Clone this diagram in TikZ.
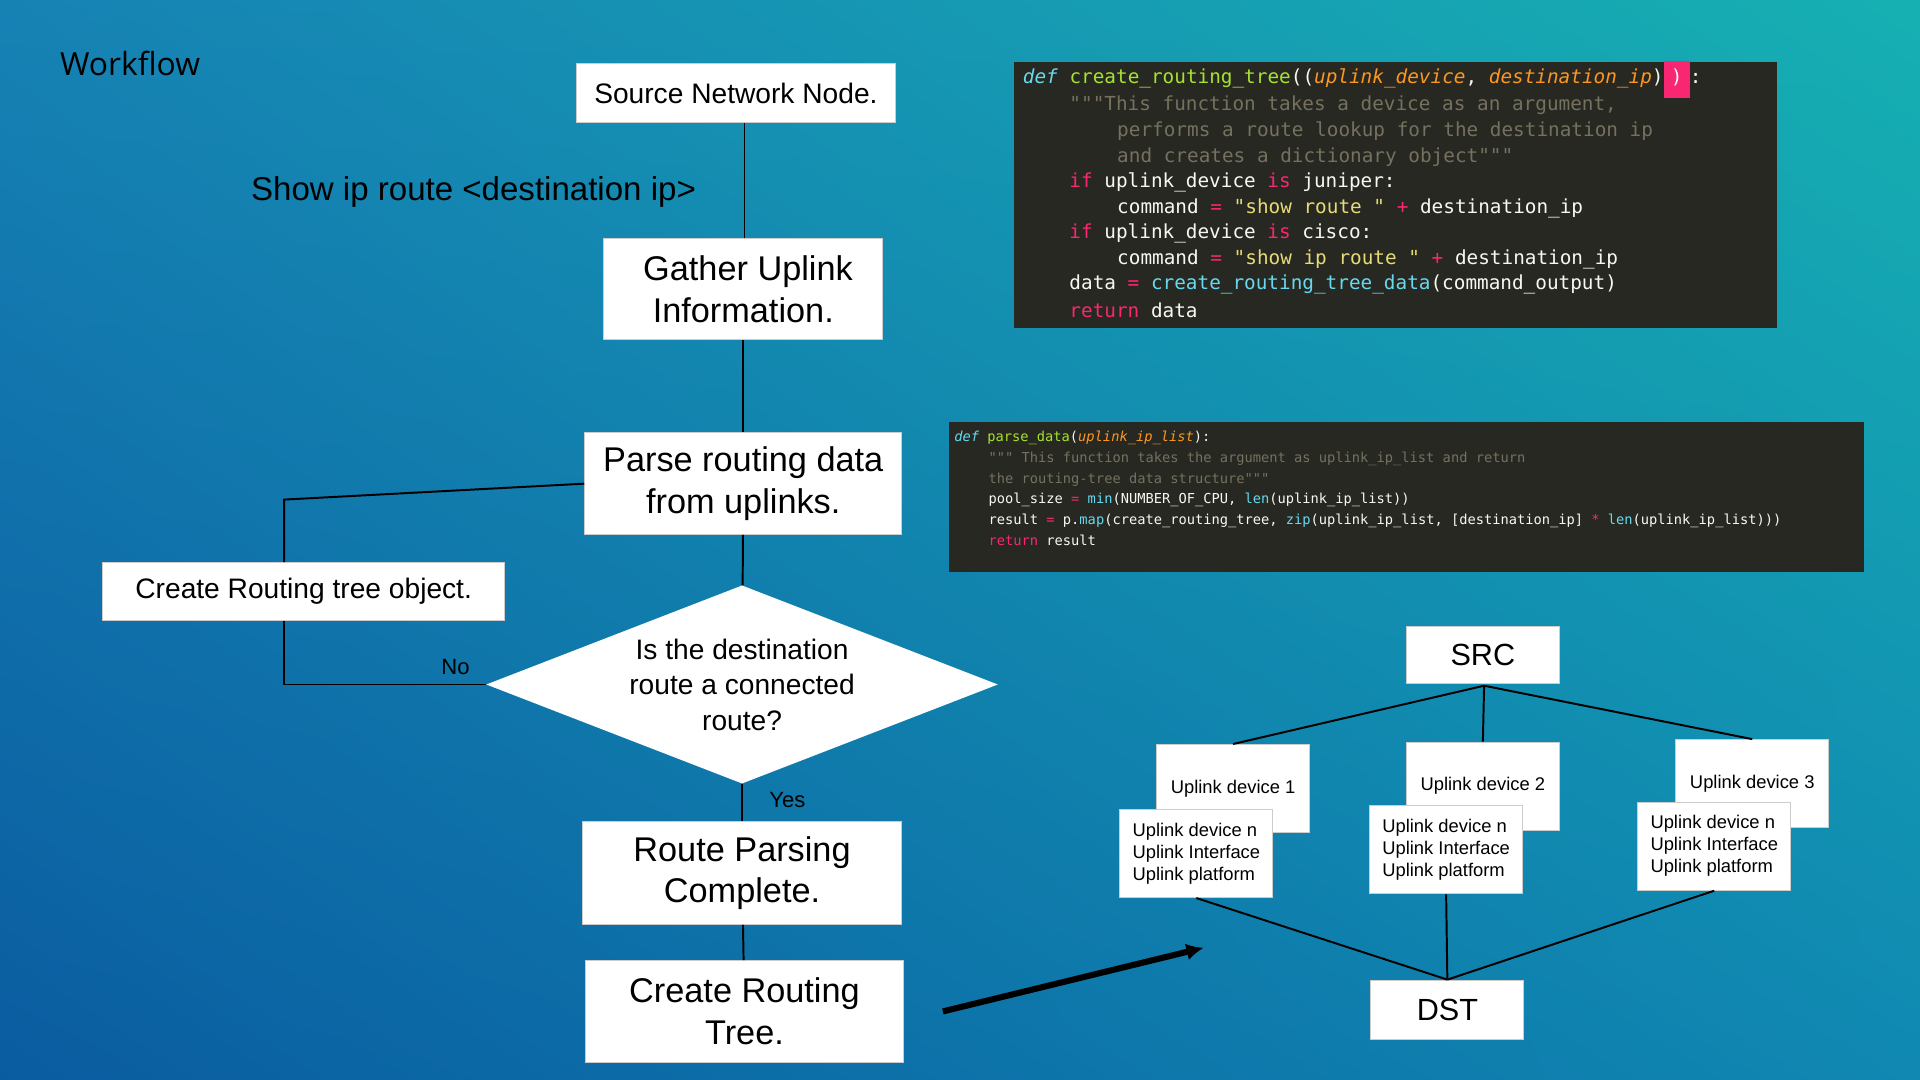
\documentclass[tikz,border=0pt]{standalone}
\usepackage{fontspec}
\setmainfont{Liberation Sans}
\newfontfamily\codefont{DejaVu Sans Mono}
\newfontfamily\titlefont{Open Sans}
\usepackage{xcolor}
\usetikzlibrary{arrows.meta, shapes.geometric, shadings}

\definecolor{codebg}{HTML}{272822}
\definecolor{cblue}{HTML}{66D9EF}
\definecolor{cgreen}{HTML}{A6E22E}
\definecolor{corange}{HTML}{FD971F}
\definecolor{cgray}{HTML}{75715E}
\definecolor{cpink}{HTML}{F92672}
\definecolor{cyellow}{HTML}{E6DB74}
\definecolor{cwhite}{HTML}{F8F8F2}
\definecolor{bgll}{RGB}{10,92,160}
\definecolor{bgul}{RGB}{22,130,180}
\definecolor{bgur}{RGB}{22,176,178}
\definecolor{bglr}{RGB}{16,136,178}

\newcommand{\kwd}[1]{\textcolor{cblue}{\itshape #1}}
\newcommand{\fnm}[1]{\textcolor{cgreen}{#1}}
\newcommand{\prm}[1]{\textcolor{corange}{\itshape #1}}
\newcommand{\cmt}[1]{\textcolor{cgray}{#1}}
\newcommand{\kwp}[1]{\textcolor{cpink}{#1}}
\newcommand{\cstr}[1]{\textcolor{cyellow}{#1}}
\newcommand{\bfn}[1]{\textcolor{cblue}{#1}}

\begin{document}
\begin{tikzpicture}[x=0.5pt, y=-0.5pt,
    box/.style={fill=white, draw=black!20, inner sep=0pt, align=center},
    uplink/.style={box, font=\fontsize{7.5}{9}\selectfont, minimum width=62.5pt, minimum height=36pt},
    codeA/.style={anchor=west, inner sep=0pt, text=cwhite, font=\codefont\fontsize{7.9}{9}\selectfont},
    codeB/.style={anchor=west, inner sep=0pt, text=cwhite, font=\codefont\fontsize{5.6}{7}\selectfont},
    flow/.style={black, line width=0.8pt}]

    % background
    \shade[lower left=bgll, upper left=bgul, upper right=bgur, lower right=bglr]
        (0,0) rectangle (1568,882);
    \useasboundingbox (0,0) rectangle (1568,882);

    \node[anchor=west, font=\titlefont\fontsize{13}{15}\selectfont] (title) at (42,52) {Workflow};

    % flow chart
    \node[box, minimum width=130pt, minimum height=24pt, font=\fontsize{11.5}{13}\selectfont] (src) at (601,76) {Source Network Node.};
    \node[box, minimum width=114pt, minimum height=41.5pt, font=\fontsize{14}{17}\selectfont] (gather) at (607,236) {\ Gather Uplink\\Information.};
    \node[box, minimum width=129.5pt, minimum height=41.5pt, font=\fontsize{14}{17}\selectfont] (parse) at (607,395) {Parse routing data\\from uplinks.};
    \node[diamond, fill=white, aspect=2.6, minimum width=209pt, minimum height=81pt, inner sep=0pt, align=center,
          font=\fontsize{11.5}{14.5}\selectfont] (check) at (606,559) {Is the destination\\route a connected\\route?};
    \node[box, minimum width=164pt, minimum height=23.5pt, font=\fontsize{11.5}{13}\selectfont] (tree) at (248,483) {Create Routing tree object.};
    \node[box, minimum width=130pt, minimum height=42pt, font=\fontsize{14}{17}\selectfont] (done) at (606,713) {Route Parsing\\Complete.};
    \node[box, minimum width=129.5pt, minimum height=41.5pt, font=\fontsize{14}{17}\selectfont] (build) at (608,826) {Create Routing\\Tree.};

    \node[anchor=west, font=\fontsize{13.5}{16}\selectfont] (cmd) at (198,157) {Show ip route <destination ip>};
    \node[font=\fontsize{9}{11}\selectfont] (no) at (372,545) {No};
    \node[font=\fontsize{9}{11}\selectfont] (yes) at (643,653) {Yes};

    \coordinate (up) at (232,408);
    \coordinate (low) at (232,559);
    \coordinate (arrS) at (770,826);
    \coordinate (arrE) at (983,774);

    \draw[flow] (src.south -| 608,0) -- (gather.north -| 608,0);
    \draw[flow] (gather) -- (parse);
    \draw[flow] (parse) -- (check);
    \draw[flow] (check) -- (done);
    \draw[flow] (done) -- (build);
    \draw[flow] (parse.west) -- (up) -- (tree.north -| up);
    \draw[flow] (tree.south -| low) -- (low) -- (check.west);
    \draw[black, line width=2.5pt, -{Latex[length=7pt, width=7pt]}] (arrS) -- (arrE);

    % code block 1
    \fill[codebg] (828,51) rectangle (1451,268);
    \node[codeA] (a1) at (835,65) {\kwd{def} \fnm{create\_routing\_tree}((\prm{uplink\_device}, \prm{destination\_ip})\colorbox{cpink}{\strut)}:};
    \node[codeA] (a2) at (873,86) {\cmt{"""This function takes a device as an argument,}};
    \node[codeA] (a3) at (912,107) {\cmt{performs a route lookup for the destination ip}};
    \node[codeA] (a4) at (912,128) {\cmt{and creates a dictionary object"""}};
    \node[codeA] (a5) at (873,149) {\kwp{if} uplink\_device \kwp{is} juniper:};
    \node[codeA] (a6) at (912,170) {command \kwp{=} \cstr{"show route "} \kwp{+} destination\_ip};
    \node[codeA] (a7) at (873,191) {\kwp{if} uplink\_device \kwp{is} cisco:};
    \node[codeA] (a8) at (912,212) {command \kwp{=} \cstr{"show ip route "} \kwp{+} destination\_ip};
    \node[codeA] (a9) at (873,232) {data \kwp{=} \bfn{create\_routing\_tree\_data}(command\_output)};
    \node[codeA] (a10) at (873,253) {\kwp{return} data};

    % code block 2
    \fill[codebg] (775,345) rectangle (1522,467);
    \node[codeB] (b1) at (779,358) {\kwd{def} \fnm{parse\_data}(\prm{uplink\_ip\_list}):};
    \node[codeB] (b2) at (807,375) {\cmt{""" This function takes the argument as uplink\_ip\_list and return}};
    \node[codeB] (b3) at (807,392) {\cmt{the routing-tree data structure"""}};
    \node[codeB] (b4) at (807,408) {pool\_size \kwp{=} \bfn{min}(NUMBER\_OF\_CPU, \bfn{len}(uplink\_ip\_list))};
    \node[codeB] (b5) at (807,425) {result \kwp{=} p.\bfn{map}(create\_routing\_tree, \bfn{zip}(uplink\_ip\_list, [destination\_ip] \kwp{*} \bfn{len}(uplink\_ip\_list)))};
    \node[codeB] (b6) at (807,441) {\kwp{return} result};

    % routing tree
    \node[box, minimum width=62.5pt, minimum height=23.5pt, font=\fontsize{12.5}{15}\selectfont] (srcT) at (1211,535) {SRC};
    \node[box, minimum width=62.5pt, minimum height=24pt, font=\fontsize{12.5}{15}\selectfont] (dst) at (1182,825) {DST};
    \node[uplink] (u1) at (1007,644) {Uplink device 1};
    \node[uplink] (u2) at (1211,642) {Uplink device 2};
    \node[uplink] (u3) at (1431,640) {Uplink device 3};
    \node[uplink, align=left] (d1) at (977,697) {Uplink device n\\Uplink Interface\\Uplink platform};
    \node[uplink, align=left] (d2) at (1181,694) {Uplink device n\\Uplink Interface\\Uplink platform};
    \node[uplink, align=left] (d3) at (1400,691) {Uplink device n\\Uplink Interface\\Uplink platform};

    \coordinate (fork) at (1212,560);
    \coordinate (join) at (1182,800);
    \draw[flow] (fork) -- (u1.north);
    \draw[flow] (fork) -- (u2.north);
    \draw[flow] (fork) -- (u3.north);
    \draw[flow] (d1.south) -- (join);
    \draw[flow] (d2.south) -- (join);
    \draw[flow] (d3.south) -- (join);
\end{tikzpicture}
\end{document}
